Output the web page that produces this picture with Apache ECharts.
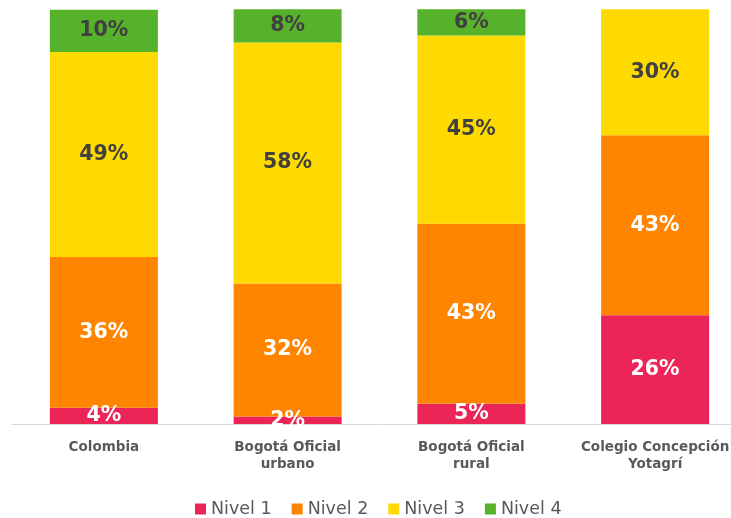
<!DOCTYPE html>
<html>
<head>
<meta charset="utf-8">
<script src="https://cdn.jsdelivr.net/npm/echarts@6/dist/echarts.min.js"></script>
<style>
html,body{margin:0;padding:0;background:#fff;overflow:hidden;width:731px;height:518px;}
#c{width:747px;height:518px;}
</style>
</head>
<body>
<div id="c"></div>
<script>
const categories = ['Colombia', 'Bogotá Oficial\nurbano', 'Bogotá Oficial\nrural', 'Colegio Concepción\nYotagrí'];
const seriesNames = ['Nivel 1', 'Nivel 2', 'Nivel 3', 'Nivel 4'];
const nivel1 = [3.9, 1.8, 4.9, 26.2];
const nivel2 = [36.4, 32.1, 43.4, 43.4];
const nivel3 = [49.4, 58.1, 45.4, 30.4];
const nivel4 = [10.2, 8.0, 6.3, null];
const colors = ['#EB2558', '#FF8500', '#FFDA00', '#57B22B'];
const labelColors = ['#ffffff', '#ffffff', '#404040', '#404040'];
const values = [nivel1, nivel2, nivel3, nivel4];
const FONT = 'DejaVu Sans';

const chart = echarts.init(document.getElementById('c'));
chart.setOption({
  animation: false,
  grid: { left: 12, right: 0, top: 9.3, bottom: 94, containLabel: false },
  legend: {
    top: 495,
    left: 190,
    itemWidth: 11,
    itemHeight: 11,
    itemGap: 20,
    icon: 'rect',
    textStyle: { fontFamily: FONT, fontSize: 17.5, color: '#595959' },
    data: seriesNames
  },
  xAxis: {
    type: 'category',
    data: categories,
    axisLine: { lineStyle: { color: '#d9d9d9', width: 1 } },
    axisTick: { show: false },
    axisLabel: {
      fontFamily: FONT, fontSize: 13.5, fontWeight: 'bold', color: '#595959',
      lineHeight: 17, margin: 15, interval: 0
    }
  },
  yAxis: {
    type: 'value', min: 0, max: 100, show: false,
    splitLine: { show: false }
  },
  graphic: [{
    type: 'rect', z: 100,
    shape: { x: 0, y: 425, width: 747, height: 11 },
    style: { fill: '#ffffff' }
  }],
  series: values.map((v, i) => ({
    name: seriesNames[i],
    type: 'bar',
    stack: 'total',
    barWidth: 108,
    data: v,
    itemStyle: { color: colors[i] },
    label: {
      show: true,
      position: 'inside',
      fontFamily: FONT,
      fontSize: 20.5,
      fontWeight: 'bold',
      color: labelColors[i],
      formatter: p => p.value == null ? '' : Math.round(p.value) + '%'
    }
  }))
});
</script>
</body>
</html>
